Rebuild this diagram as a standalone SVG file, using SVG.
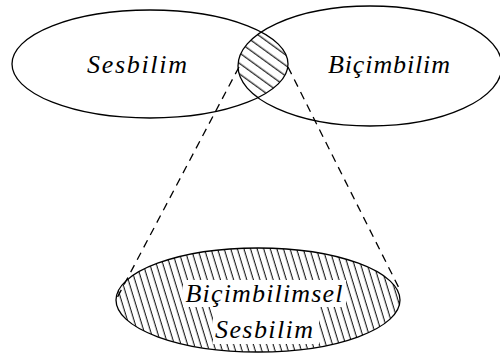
<svg xmlns="http://www.w3.org/2000/svg" width="500" height="360" viewBox="0 0 500 360">
  <style>
    .outline { fill: none; stroke: #000; stroke-width: 1.3; }
    .label { font-family: "Liberation Serif", "DejaVu Serif", serif; font-style: italic; font-size: 26px; fill: #000; text-anchor: middle; }
    .conn { fill: none; stroke: #000; stroke-width: 1.3; stroke-dasharray: 8 6; }
  </style>
  <defs>
    <pattern id="hatchLens" width="8" height="8.5" patternUnits="userSpaceOnUse" patternTransform="rotate(36)">
      <line x1="0" y1="4" x2="8" y2="4" stroke="#000" stroke-width="1.1"/>
    </pattern>
    <pattern id="hatchBottom" width="6.3" height="10" patternUnits="userSpaceOnUse" patternTransform="rotate(-17)">
      <line x1="3" y1="0" x2="3" y2="10" stroke="#000" stroke-width="1"/>
    </pattern>
    <clipPath id="clipL"><ellipse cx="150" cy="64" rx="138" ry="54"/></clipPath>
    <clipPath id="clipR"><ellipse cx="370" cy="66" rx="132" ry="60"/></clipPath>
  </defs>
  <rect width="500" height="360" fill="#fff"/>

  <g id="intersection">
    <g clip-path="url(#clipL)">
      <rect x="230" y="20" width="70" height="90" fill="url(#hatchLens)" clip-path="url(#clipR)"/>
    </g>
  </g>

  <g id="sesbilim">
    <ellipse class="outline" cx="150" cy="64" rx="138" ry="54"/>
    <text class="label" x="137" y="73" textLength="100" lengthAdjust="spacing">Sesbilim</text>
  </g>

  <g id="bicimbilim">
    <ellipse class="outline" cx="370" cy="66" rx="132" ry="60"/>
    <text class="label" x="389" y="73" textLength="122" lengthAdjust="spacing">Biçimbilim</text>
  </g>

  <g id="connectors">
    <line class="conn" x1="239" y1="67" x2="117" y2="298"/>
    <line class="conn" x1="288" y1="67" x2="401" y2="292"/>
  </g>

  <g id="bicimbilimsel-sesbilim">
    <ellipse cx="258" cy="300" rx="142" ry="52" fill="url(#hatchBottom)"/>
    <rect x="183" y="280" width="163" height="27" fill="#fff"/>
    <rect x="213" y="306" width="106" height="38" fill="#fff"/>
    <ellipse class="outline" cx="258" cy="300" rx="142" ry="52"/>
    <text class="label" x="264" y="302" textLength="157" lengthAdjust="spacing">Biçimbilimsel</text>
    <text class="label" x="264" y="338" textLength="98" lengthAdjust="spacing">Sesbilim</text>
  </g>
</svg>
